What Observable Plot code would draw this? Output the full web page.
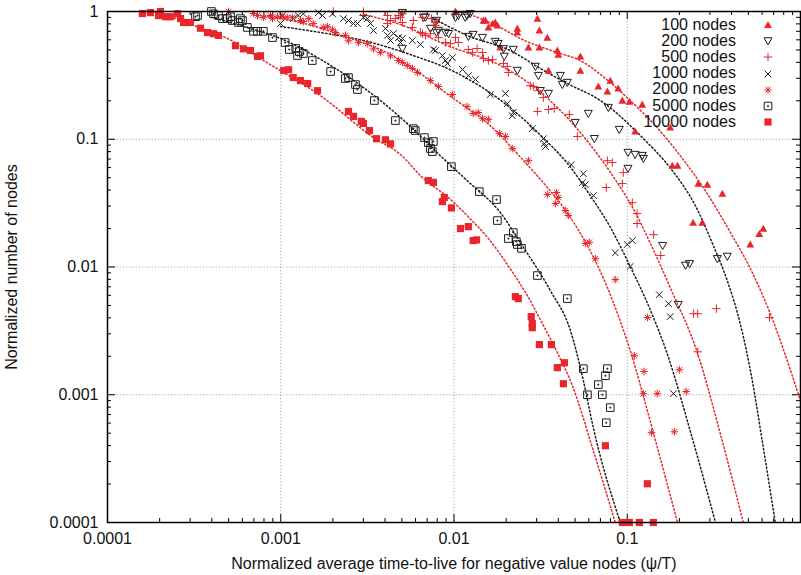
<!DOCTYPE html>
<html>
<head>
<meta charset="utf-8">
<script src="https://cdn.jsdelivr.net/npm/d3@7"></script>
<script src="https://cdn.jsdelivr.net/npm/@observablehq/plot@0.6"></script>
<style>
  body { margin: 0; background: #fff; }
  #wrap { position: relative; width: 801px; height: 575px; font-family: "Liberation Sans", Arial, Helvetica, sans-serif; }
  .lg-text { position: absolute; right: 65px; font-size: 16px; line-height: 18px; color: #111; white-space: nowrap; }
  .lg-sym { position: absolute; left: 762px; width: 12px; height: 12px; overflow: visible; }
</style>
</head>
<body>
<div id="wrap"></div>
<script>
// ---------------- data ----------------
const seriesNames = ["100 nodes", "200 nodes", "500 nodes", "1000 nodes", "2000 nodes", "5000 nodes", "10000 nodes"];

const pts100 = [[1.02e-2,1.0],[1.48e-2,0.85],[1.52e-2,0.85],[1.58e-2,0.75],[1.67e-2,0.805],[1.73e-2,0.82],[1.78e-2,0.777],[1.85e-2,0.523],[2.32e-2,0.736],[2.32e-2,0.685],[2.69e-2,0.523],[3.03e-2,0.88],[3.11e-2,0.71],[3.11e-2,0.523],[3.46e-2,0.625],[3.51e-2,0.345],[3.95e-2,0.495],[4.0e-2,0.46],[5.36e-2,0.445],[5.36e-2,0.345],[6.81e-2,0.259],[7.68e-2,0.237],[7.98e-2,0.288],[8.87e-2,0.25],[9.37e-2,0.201],[0.103,0.197],[0.111,0.115],[0.122,0.187],[0.177,0.124],[0.182,0.0622],[0.195,0.0622],[0.257,0.045],[0.290,0.0442],[0.354,0.0375],[0.240,0.0222],[0.271,0.0222],[0.578,0.0182],[0.610,0.020],[0.513,0.015]];

const pts200 = [[5.04e-3,0.98],[6.67e-3,0.90],[6.84e-3,0.90],[7.31e-3,0.736],[7.81e-3,0.82],[7.92e-3,0.85],[7.92e-3,0.685],[8.13e-3,0.71],[8.92e-3,0.685],[9.29e-3,0.67],[1.02e-2,0.90],[1.06e-2,0.93],[1.16e-2,0.90],[1.19e-2,0.93],[1.24e-2,0.96],[1.21e-2,0.637],[1.29e-2,0.66],[1.46e-2,0.625],[1.73e-2,0.582],[1.80e-2,0.56],[1.93e-2,0.51],[1.95e-2,0.445],[2.20e-2,0.504],[2.32e-2,0.345],[2.95e-2,0.371],[3.07e-2,0.315],[3.15e-2,0.24],[3.51e-2,0.228],[4.11e-2,0.315],[4.22e-2,0.268],[4.51e-2,0.278],[5.01e-2,0.135],[5.96e-2,0.159],[6.46e-2,0.101],[7.78e-2,0.177],[8.99e-2,0.119],[0.101,0.0787],[0.111,0.0759],[0.122,0.0745],[0.124,0.0706],[0.101,0.059],[5.04e-3,0.513],[0.160,0.0147],[0.217,0.0103],[0.229,0.0106],[0.197,0.00508],[0.331,0.0116],[0.378,0.0121]];

const pts500 = [[2.01e-3,1.0],[3.0e-3,1.0],[3.0e-3,0.93],[4.13e-3,0.93],[4.13e-3,0.805],[4.30e-3,0.85],[4.59e-3,0.88],[4.78e-3,0.93],[5.04e-3,0.82],[5.04e-3,0.96],[4.91e-3,0.90],[5.75e-3,0.75],[5.83e-3,0.85],[6.58e-3,0.90],[6.40e-3,0.685],[6.58e-3,0.67],[6.84e-3,0.65],[7.31e-3,0.67],[7.41e-3,0.88],[7.81e-3,0.78],[7.92e-3,0.82],[8.13e-3,0.625],[8.92e-3,0.572],[9.53e-3,0.56],[1.02e-2,0.625],[1.06e-2,0.572],[1.21e-2,0.504],[1.28e-2,0.477],[1.36e-2,0.513],[1.46e-2,0.477],[1.48e-2,0.428],[1.58e-2,0.413],[1.67e-2,0.42],[1.93e-2,0.392],[2.03e-2,0.371],[2.06e-2,0.333],[2.76e-2,0.263],[2.87e-2,0.259],[3.07e-2,0.24],[3.28e-2,0.212],[3.03e-2,0.165],[3.51e-2,0.171],[3.79e-2,0.174],[4.63e-2,0.156],[5.15e-2,0.105],[7.68e-2,0.068],[8.20e-2,0.0657],[9.49e-2,0.0548],[7.57e-2,0.0419],[9.37e-2,0.045],[0.107,0.0319],[0.114,0.0262],[0.114,0.0219],[0.142,0.0179],[0.156,0.0123],[0.327,0.00472],[0.241,0.00431],[0.255,0.00431],[0.255,0.00217],[0.662,0.00402]];

const pts1000 = [[9.96e-4,0.805],[1.02e-3,0.93],[1.18e-3,0.88],[1.26e-3,0.93],[1.35e-3,0.96],[1.65e-3,0.98],[1.74e-3,0.93],[1.99e-3,0.96],[2.30e-3,0.88],[2.46e-3,0.85],[2.63e-3,0.805],[2.77e-3,0.805],[3.0e-3,0.90],[3.16e-3,0.88],[3.30e-3,0.805],[3.43e-3,0.71],[4.02e-3,0.736],[4.13e-3,0.65],[4.30e-3,0.593],[4.47e-3,0.673],[4.78e-3,0.625],[4.91e-3,0.572],[5.04e-3,0.615],[5.75e-3,0.593],[6.40e-3,0.552],[7.60e-3,0.504],[7.81e-3,0.495],[8.57e-3,0.452],[8.92e-3,0.413],[9.16e-3,0.392],[9.79e-3,0.436],[1.12e-2,0.352],[1.21e-2,0.315],[1.33e-2,0.294],[1.62e-2,0.224],[1.98e-2,0.228],[2.03e-2,0.19],[2.20e-2,0.162],[2.17e-2,0.153],[2.83e-2,0.121],[3.28e-2,0.101],[3.32e-2,0.0925],[3.37e-2,0.0877],[4.75e-2,0.0632],[5.58e-2,0.0537],[5.51e-2,0.0457],[5.73e-2,0.0441],[6.38e-2,0.0362],[8.53e-2,0.0129],[0.1,0.015],[0.107,0.0161],[0.104,0.0101],[0.153,0.00608],[0.173,0.00516],[0.177,0.00409],[0.185,0.00102]];

const pts2000 = [[4.99e-4,1.0],[6.95e-4,0.964],[7.34e-4,0.93],[7.94e-4,0.90],[8.73e-4,0.93],[8.96e-4,0.88],[9.57e-4,0.91],[1.02e-3,0.91],[1.09e-3,0.90],[1.17e-3,0.90],[1.30e-3,0.85],[1.35e-3,0.835],[1.45e-3,0.88],[1.54e-3,0.805],[1.76e-3,0.75],[1.86e-3,0.76],[1.99e-3,0.72],[2.07e-3,0.685],[2.36e-3,0.65],[2.46e-3,0.59],[2.81e-3,0.57],[3.16e-3,0.56],[3.43e-3,0.51],[3.76e-3,0.477],[4.30e-3,0.45],[4.78e-3,0.413],[5.04e-3,0.40],[5.38e-3,0.378],[5.75e-3,0.358],[6.15e-3,0.333],[7.31e-3,0.288],[8.13e-3,0.259],[9.79e-3,0.224],[1.19e-2,0.180],[1.29e-2,0.159],[1.38e-2,0.162],[1.46e-2,0.145],[1.58e-2,0.143],[1.83e-2,0.111],[1.98e-2,0.105],[2.17e-2,0.0845],[2.69e-2,0.068],[3.46e-2,0.0369],[3.90e-2,0.0383],[4.00e-2,0.035],[3.85e-2,0.0314],[4.39e-2,0.0277],[4.57e-2,0.0253],[5.73e-2,0.0153],[6.04e-2,0.0156],[6.55e-2,0.0116],[8.53e-2,0.00797],[0.131,0.00402],[0.110,0.00202],[0.125,0.00152],[0.200,0.00157],[0.124,0.00102],[0.149,0.00102],[0.219,0.00106],[0.138,5.05e-4],[0.187,5.13e-4]];

const pts5000 = [[3.22e-4,0.91],[3.31e-4,0.93],[3.98e-4,1.0],[4.09e-4,0.96],[4.37e-4,0.93],[4.61e-4,0.88],[4.92e-4,0.88],[5.13e-4,0.91],[5.26e-4,0.85],[5.70e-4,0.82],[5.85e-4,0.88],[6.01e-4,0.85],[6.42e-4,0.75],[6.95e-4,0.70],[7.34e-4,0.70],[7.94e-4,0.70],[8.96e-4,0.625],[1.06e-3,0.572],[1.12e-3,0.504],[1.22e-3,0.513],[1.28e-3,0.486],[1.25e-3,0.452],[1.35e-3,0.469],[1.52e-3,0.413],[1.94e-3,0.339],[2.36e-3,0.299],[2.46e-3,0.304],[2.70e-3,0.268],[2.77e-3,0.245],[3.47e-3,0.201],[4.59e-3,0.140],[5.83e-3,0.121],[5.98e-3,0.117],[6.75e-3,0.103],[7.11e-3,0.094],[7.60e-3,0.096],[7.31e-3,0.0846],[7.50e-3,0.080],[9.66e-3,0.061],[1.40e-2,0.0389],[1.76e-2,0.0337],[1.78e-2,0.0231],[2.20e-2,0.0186],[2.06e-2,0.0167],[2.29e-2,0.0158],[2.32e-2,0.0150],[2.45e-2,0.0140],[3.03e-2,0.00857],[4.51e-2,0.00566],[5.58e-2,0.0016],[7.68e-2,0.0016],[7.48e-2,0.00141],[6.81e-2,0.0012],[5.89e-2,0.001],[7.18e-2,0.001],[7.98e-2,7.93e-4],[7.57e-2,6.04e-4]];

const pts10000 = [[1.59e-4,0.964],[1.77e-4,0.98],[1.97e-4,0.93],[2.02e-4,1.0],[2.16e-4,0.91],[2.31e-4,0.91],[2.54e-4,0.96],[2.64e-4,0.88],[2.75e-4,0.82],[3.01e-4,0.82],[3.44e-4,0.74],[3.78e-4,0.685],[4.09e-4,0.67],[4.37e-4,0.65],[5.48e-4,0.54],[6.09e-4,0.51],[6.69e-4,0.495],[7.34e-4,0.445],[7.64e-4,0.45],[1.04e-3,0.345],[1.11e-3,0.35],[1.18e-3,0.304],[1.30e-3,0.288],[1.43e-3,0.273],[1.63e-3,0.24],[2.46e-3,0.165],[2.63e-3,0.151],[2.92e-3,0.138],[3.0e-3,0.133],[3.25e-3,0.117],[3.57e-3,0.101],[4.02e-3,0.099],[4.30e-3,0.092],[7.11e-3,0.0475],[7.60e-3,0.046],[8.79e-3,0.035],[8.57e-3,0.0325],[9.66e-3,0.029],[1.09e-2,0.020],[1.21e-2,0.0207],[1.29e-2,0.0161],[1.35e-2,0.0163],[2.26e-2,0.00586],[2.35e-2,0.00566],[2.79e-2,0.00409],[2.83e-2,0.00361],[2.83e-2,0.00335],[3.11e-2,0.00247],[3.65e-2,0.00247],[3.95e-2,0.00163],[4.34e-2,0.00178],[4.28e-2,0.00122],[7.48e-2,3.99e-4],[0.1306,2.01e-4],[0.0937,1e-4],[0.1028,1e-4],[0.1175,1e-4],[0.1415,1e-4]];

// fitted curves
const fit100 = [[1.24e-2,0.947],[1.85e-2,0.75],[2.41e-2,0.615],[3.95e-2,0.477],[5.36e-2,0.413],[7.48e-2,0.299],[0.104,0.201],[0.145,0.128],[0.202,0.0745],[0.282,0.0397],[0.394,0.0186],[0.527,0.00904],[0.687,0.00394],[0.908,0.00134],[1.0,8.96e-4]];
const fit200 = [[7.41e-3,0.90],[1.19e-2,0.65],[2.11e-2,0.495],[3.15e-2,0.358],[4.51e-2,0.273],[7.0e-2,0.201],[0.124,0.101],[0.182,0.0569],[0.247,0.0303],[0.314,0.0147],[0.378,0.00782],[0.449,0.0036],[0.527,0.00129],[0.601,4.37e-4],[0.715,1e-4]];
const fit500 = [[3.0e-3,0.947],[4.91e-3,0.79],[9.16e-3,0.542],[1.85e-2,0.378],[2.83e-2,0.263],[4.11e-2,0.168],[5.36e-2,0.113],[9.12e-2,0.042],[0.107,0.0295],[0.136,0.0153],[0.177,0.0069],[0.255,0.0021],[0.344,5.0e-4],[0.468,1e-4]];
const fit1000 = [[9.96e-4,0.763],[1.69e-3,0.685],[3.0e-3,0.593],[5.61e-3,0.46],[1.0e-2,0.339],[2.0e-2,0.187],[3.24e-2,0.104],[4.70e-2,0.0605],[5.89e-2,0.039],[7.98e-2,0.0205],[0.104,0.0101],[0.136,0.0046],[0.170,0.0021],[0.231,5.2e-4],[0.323,1e-4]];
const fit2000 = [[7.64e-4,0.93],[1.30e-3,0.82],[2.36e-3,0.637],[4.30e-3,0.46],[6.40e-3,0.327],[8.92e-3,0.232],[1.69e-2,0.121],[2.52e-2,0.068],[3.46e-2,0.0419],[4.70e-2,0.0244],[7.68e-2,0.0069],[0.104,0.00222],[0.142,4.95e-4],[0.195,1e-4]];
const fit5000 = [[4.0e-4,0.90],[6.69e-4,0.736],[9.96e-4,0.615],[1.63e-3,0.436],[3.0e-3,0.254],[4.78e-3,0.153],[8.68e-3,0.0706],[1.19e-2,0.0475],[1.85e-2,0.0267],[2.52e-2,0.0142],[3.60e-2,0.00653],[4.70e-2,0.00318],[5.58e-2,0.00129],[6.37e-2,5.53e-4],[9.12e-2,1e-4]];
const fit10000 = [[2.2e-4,0.93],[2.75e-4,0.84],[3.44e-4,0.74],[4.80e-4,0.625],[8.49e-4,0.392],[1.69e-3,0.22],[3.43e-3,0.103],[4.91e-3,0.0759],[6.58e-3,0.0501],[9.29e-3,0.0349],[1.24e-2,0.0239],[1.58e-2,0.0167],[2.11e-2,0.0097],[2.65e-2,0.00597],[3.28e-2,0.00348],[3.95e-2,0.00214],[4.82e-2,0.00118],[6.37e-2,3.65e-4],[8.53e-2,1e-4]];

const majorTicks = [1e-4, 1e-3, 1e-2, 1e-1, 1];
const xTickLabels = [1e-4, 1e-3, 1e-2, 1e-1];
const minorMultipliers = [2, 3, 4, 5, 6, 7, 8, 9];

const xLabel = "Normalized average time-to-live for negative value nodes (\u03c8/T)";
const yLabel = "Normalized number of nodes";

// ---------------- styling ----------------
const RED = "#e8262b", DARK = "#1c1c1c";
const W = 801, H = 575, ML = 107, MR = 1, MT = 11, MB = 53;
const PW = W - ML - MR, PH = H - MT - MB;

function mk(fn) { return { draw(ctx, size) { const r = Math.sqrt(size / Math.PI); fn(ctx, r); } }; }
const symTriUp = mk((c, r) => { c.moveTo(0, -r); c.lineTo(r, 0.8 * r); c.lineTo(-r, 0.8 * r); c.closePath(); });
const symTriDown = mk((c, r) => { c.moveTo(0, r); c.lineTo(r, -0.8 * r); c.lineTo(-r, -0.8 * r); c.closePath(); });
const symPlus = mk((c, r) => { c.moveTo(-r, 0); c.lineTo(r, 0); c.moveTo(0, -r); c.lineTo(0, r); });
const symCross = mk((c, r) => { const a = 0.75 * r; c.moveTo(-a, -a); c.lineTo(a, a); c.moveTo(-a, a); c.lineTo(a, -a); });
const symStar = mk((c, r) => { const a = 0.72 * r; c.moveTo(-r, 0); c.lineTo(r, 0); c.moveTo(0, -r); c.lineTo(0, r); c.moveTo(-a, -a); c.lineTo(a, a); c.moveTo(-a, a); c.lineTo(a, -a); });
const symBoxDot = mk((c, r) => { c.rect(-r, -r, 2 * r, 2 * r); c.rect(-0.5, -0.5, 1, 1); });
const symSquare = mk((c, r) => { c.rect(-r, -r, 2 * r, 2 * r); });

const seriesPts = [pts100, pts200, pts500, pts1000, pts2000, pts5000, pts10000];
const seriesFit = [fit100, fit200, fit500, fit1000, fit2000, fit5000, fit10000];
const seriesStyle = [
  { sym: symTriUp,   fill: RED,    stroke: "none", r: 3.9, sw: 0 },
  { sym: symTriDown, fill: "none", stroke: DARK,   r: 4.0, sw: 1 },
  { sym: symPlus,    fill: "none", stroke: RED,    r: 4.2, sw: 1 },
  { sym: symCross,   fill: "none", stroke: DARK,   r: 4.4, sw: 1 },
  { sym: symStar,    fill: "none", stroke: RED,    r: 3.8, sw: 1 },
  { sym: symBoxDot,  fill: "none", stroke: DARK,   r: 3.8, sw: 1 },
  { sym: symSquare,  fill: RED,    stroke: "none", r: 3.6, sw: 0 }
];
const lineColor = [RED, DARK, RED, DARK, RED, DARK, RED];

const minorTicks = majorTicks.slice(0, -1).flatMap(d => minorMultipliers.map(k => k * d));
const fmt = d => String(d);

const marks = [
  Plot.ruleX(majorTicks.slice(1, -1), { stroke: "#8a8a8a", strokeWidth: 0.9, strokeDasharray: "1,2.2" }),
  Plot.ruleY(majorTicks.slice(1, -1), { stroke: "#8a8a8a", strokeWidth: 0.9, strokeDasharray: "1,2.2" }),
  // inward ticks on all four sides
  Plot.tickX(majorTicks, { x: d => d, insetTop: PH - 8, stroke: "#000", strokeWidth: 1 }),
  Plot.tickX(majorTicks, { x: d => d, insetBottom: PH - 8, stroke: "#000", strokeWidth: 1 }),
  Plot.tickX(minorTicks, { x: d => d, insetTop: PH - 4, stroke: "#000", strokeWidth: 1 }),
  Plot.tickX(minorTicks, { x: d => d, insetBottom: PH - 4, stroke: "#000", strokeWidth: 1 }),
  Plot.tickY(majorTicks, { y: d => d, insetRight: PW - 8, stroke: "#000", strokeWidth: 1 }),
  Plot.tickY(majorTicks, { y: d => d, insetLeft: PW - 8, stroke: "#000", strokeWidth: 1 }),
  Plot.tickY(minorTicks, { y: d => d, insetRight: PW - 4, stroke: "#000", strokeWidth: 1 }),
  Plot.tickY(minorTicks, { y: d => d, insetLeft: PW - 4, stroke: "#000", strokeWidth: 1 })
];

seriesFit.forEach((f, i) => {
  marks.push(Plot.line(f, { x: d => d[0], y: d => d[1], stroke: lineColor[i], strokeWidth: 1.5, strokeDasharray: "1.4,2.4", curve: "monotone-x", clip: true }));
});
seriesPts.forEach((p, i) => {
  const s = seriesStyle[i];
  marks.push(Plot.dot(p, { x: d => d[0], y: d => d[1], symbol: s.sym, r: s.r, fill: s.fill, stroke: s.stroke, strokeWidth: s.sw }));
});
marks.push(Plot.frame({ stroke: "#000", strokeWidth: 1.5 }));

const chart = Plot.plot({
  width: W, height: H,
  marginLeft: ML, marginRight: MR, marginTop: MT, marginBottom: MB,
  style: { fontFamily: "'Liberation Sans', Arial, Helvetica, sans-serif", fontSize: "16px", color: "#111", background: "#fff", overflow: "visible" },
  x: { type: "log", domain: [1e-4, 1], ticks: xTickLabels, tickFormat: fmt, tickSize: 0, tickPadding: 10,
       label: xLabel, labelAnchor: "center", labelOffset: 46, labelArrow: false },
  y: { type: "log", domain: [1e-4, 1], ticks: majorTicks, tickFormat: fmt, tickSize: 0, tickPadding: 9,
       label: yLabel, labelAnchor: "center", labelOffset: 102, labelArrow: false },
  marks
});

const wrap = document.getElementById("wrap");
wrap.appendChild(chart);

// legend (inside the plot area, top right)
seriesNames.forEach((name, i) => {
  const cy = 25 + 16.2 * i;
  const t = document.createElement("div");
  t.className = "lg-text";
  t.style.top = (cy - 9.5) + "px";
  t.textContent = name;
  wrap.appendChild(t);
  const s = seriesStyle[i];
  const p = d3.path();
  s.sym.draw(p, Math.PI * s.r * s.r);
  const svg = d3.create("svg").attr("class", "lg-sym").attr("width", 12).attr("height", 12)
    .style("top", (cy - 6) + "px");
  svg.append("path").attr("d", p.toString()).attr("transform", "translate(6,6)")
    .attr("fill", s.fill).attr("stroke", s.stroke).attr("stroke-width", s.sw || null);
  wrap.appendChild(svg.node());
});
</script>
</body>
</html>
